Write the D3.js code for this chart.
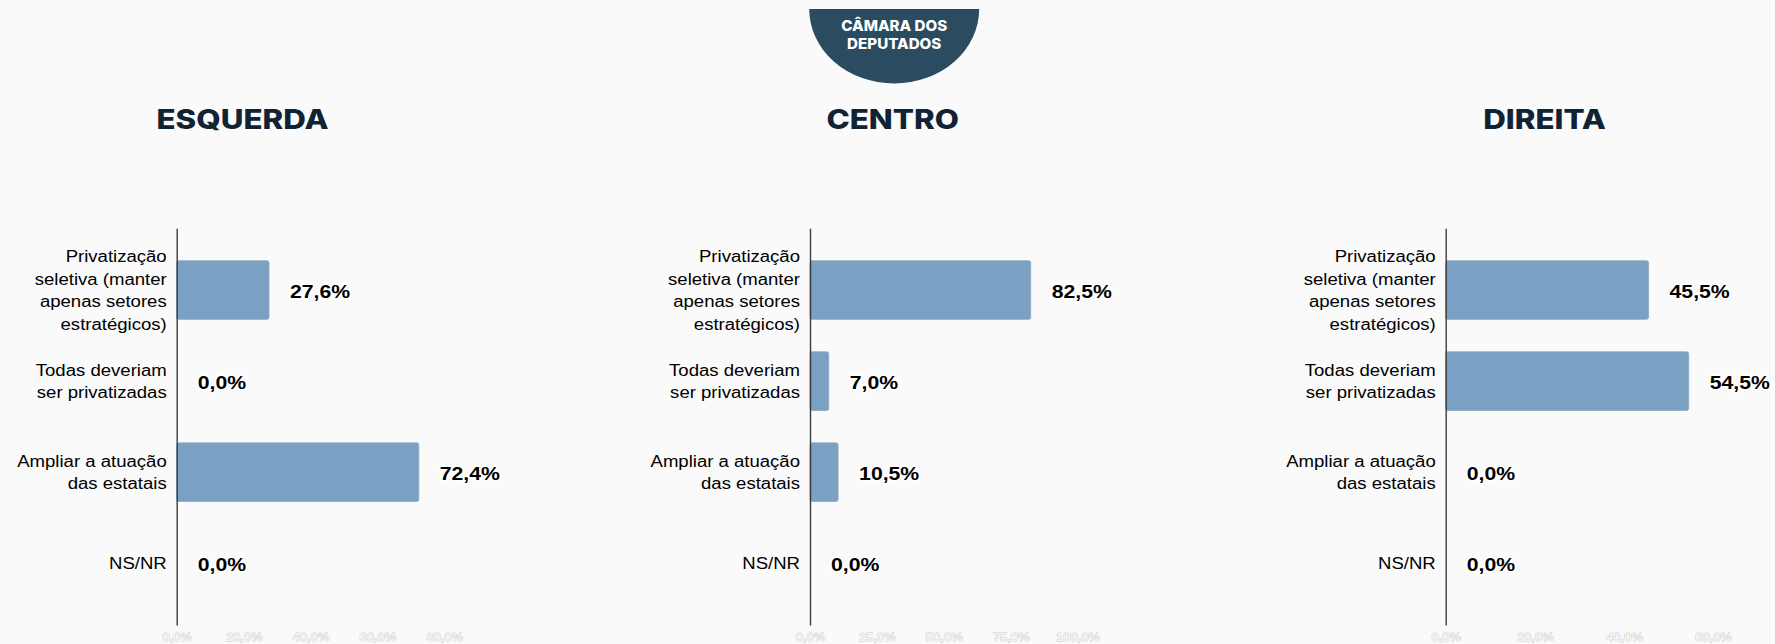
<!doctype html>
<html lang="pt">
<head>
<meta charset="utf-8">
<script src="https://d3js.org/d3.v7.min.js"></script>
<style>
  html, body { margin: 0; padding: 0; background: #fafafa; }
  svg { display: block; }
  .cat { font-family: "Liberation Sans", Arial, sans-serif; font-size: 16px; fill: #000; }
  .val { font-family: "Liberation Sans", Arial, sans-serif; font-size: 18.3px; font-weight: bold; fill: #000;
         stroke: #fff; stroke-width: 3px; paint-order: stroke; stroke-linejoin: round; }
  .tick-x { font-family: "Liberation Sans", Arial, sans-serif; font-size: 11.2px; fill: #fff;
            stroke: #c9c9c9; stroke-width: 0.9px; paint-order: stroke; }
  .title { font-family: Inter, "Noto Sans", sans-serif; font-weight: 800; font-size: 27px; fill: #0f2335; }
  .badge-text { font-family: Inter, "Noto Sans", sans-serif; font-weight: 800; font-size: 14.3px; fill: #fff; }
  .bar { fill: #7aa0c3; stroke: #8fa7bd; stroke-width: 0.8; }
</style>
</head>
<body>
<div id="chart"></div>
<script>
  // data
  const categories = [
    "Privatização seletiva (manter apenas setores estratégicos)",
    "Todas deveriam ser privatizadas",
    "Ampliar a atuação das estatais",
    "NS/NR"
  ];
  const panelTitles = ["ESQUERDA", "CENTRO", "DIREITA"];
  const esquerda = [27.6, 0.0, 72.4, 0.0];
  const centro   = [82.5, 7.0, 10.5, 0.0];
  const direita  = [45.5, 54.5, 0.0, 0.0];
  const ticksEsquerda = [0, 20, 40, 60, 80];
  const ticksCentro   = [0, 25, 50, 75, 100];
  const ticksDireita  = [0, 20, 40, 60];
  const badgeLines = ["CÂMARA DOS", "DEPUTADOS"];

  const seriesList = [esquerda, centro, direita];
  const tickList = [ticksEsquerda, ticksCentro, ticksDireita];

  // layout
  const W = 1775, H = 644;
  const SX = 1.16;              // text in the original is stretched horizontally
  const axisX = [176.7, 810, 1445.7];
  const titleX = [242.5, 892.7, 1544.5];
  const plotW = 267.5;
  const yTop = 228.3, yBottom = 625;

  const ptBR = d3.formatLocale({decimal: ",", thousands: ".", grouping: [3], currency: ["R$", ""]});
  const pct = v => ptBR.format(".1f")(v) + "%";

  const svg = d3.select("#chart").append("svg")
      .attr("width", W).attr("height", H);

  svg.append("rect").attr("width", W).attr("height", H).attr("fill", "#fafafa");

  // badge
  const bx = 894.2, by = 9, brx = 85, bry = 74.5;
  svg.append("path")
     .attr("d", `M${bx - brx},${by} A${brx},${bry} 0 0 0 ${bx + brx},${by} Z`)
     .attr("fill", "#2a4b60");
  svg.append("g").selectAll("text").data(badgeLines).join("text")
     .attr("class", "badge-text")
     .attr("text-anchor", "middle")
     .attr("transform", (d, i) => `translate(${bx},${30.5 + i * 18.3}) scale(1.06,1)`)
     .text(d => d);

  const y = d3.scaleBand()
      .domain(categories)
      .range([yTop, yBottom])
      .paddingInner(0.356)
      .paddingOuter(0.356);

  function wrap(sel, maxW) {
    sel.each(function(d) {
      const t = d3.select(this);
      const words = d.split(/\s+/);
      t.text(null);
      let lines = [], line = [];
      const probe = t.append("tspan");
      for (const w of words) {
        line.push(w);
        probe.text(line.join(" "));
        if (probe.node().getComputedTextLength() > maxW && line.length > 1) {
          line.pop();
          lines.push(line.join(" "));
          line = [w];
        }
      }
      lines.push(line.join(" "));
      probe.remove();
      const lh = 22.6;
      lines.forEach((l, i) => {
        t.append("tspan")
         .attr("x", 0)
         .attr("y", (i - (lines.length - 1) / 2) * lh)
         .attr("dy", "0.36em")
         .text(l);
      });
    });
  }

  seriesList.forEach((vals, p) => {
    const ticks = tickList[p];
    const x = d3.scaleLinear()
        .domain([0, ticks[ticks.length - 1]])
        .range([axisX[p], axisX[p] + plotW]);

    const g = svg.append("g");

    // title
    g.append("text")
     .attr("class", "title")
     .attr("text-anchor", "middle")
     .attr("transform", `translate(${titleX[p]},128.5) scale(${SX},1)`)
     .text(panelTitles[p]);

    // bars
    g.selectAll("rect.bar")
     .data(categories.map((c, i) => ({c, v: vals[i]})).filter(d => d.v > 0))
     .join("rect")
     .attr("class", "bar")
     .attr("x", x(0))
     .attr("y", d => y(d.c))
     .attr("width", d => x(d.v) - x(0))
     .attr("height", y.bandwidth())
     .attr("rx", 2).attr("ry", 2);

    // y axis line + category labels
    const yAxis = g.append("g")
       .attr("transform", `translate(${x(0)},0)`)
       .call(d3.axisLeft(y).tickSize(0).tickSizeOuter(0).tickFormat(""));
    yAxis.select(".domain").attr("stroke", "#3a3a3a").attr("stroke-width", 1.4);
    yAxis.selectAll(".tick text").remove();

    g.selectAll("text.cat")
     .data(categories)
     .join("text")
     .attr("class", "cat")
     .attr("text-anchor", "end")
     .attr("transform", d => `translate(${x(0) - 10},${y(d) + y.bandwidth() / 2}) scale(${SX},1)`)
     .call(wrap, 158 / SX);

    // value labels
    g.selectAll("text.val")
     .data(categories.map((c, i) => ({c, v: vals[i]})))
     .join("text")
     .attr("class", "val")
     .attr("transform", d => `translate(${x(d.v) + 21},${y(d.c) + y.bandwidth() / 2 + 1}) scale(${SX},1)`)
     .attr("dy", "0.36em")
     .text(d => pct(d.v));

    // x axis tick labels
    const xAxis = g.append("g")
       .attr("transform", `translate(0,${yBottom})`)
       .call(d3.axisBottom(x).tickValues(ticks).tickSize(0).tickPadding(8.5).tickFormat(pct));
    xAxis.select(".domain").remove();
    xAxis.selectAll(".tick text")
       .attr("class", "tick-x")
       .attr("font-family", null).attr("font-size", null)
       .attr("fill", null)
       .attr("transform", `scale(${SX},1)`);
  });
</script>
</body>
</html>
